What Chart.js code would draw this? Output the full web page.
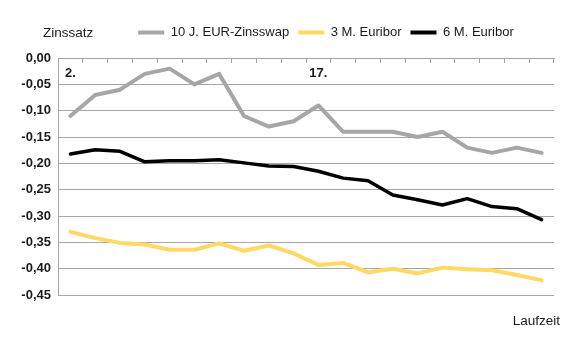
<!DOCTYPE html>
<html>
<head>
<meta charset="utf-8">
<script src="https://cdn.jsdelivr.net/npm/chart.js@4/dist/chart.umd.min.js"></script>
<style>
  html, body { margin: 0; padding: 0; background: #ffffff; }
  canvas { display: block; }
</style>
</head>
<body>
<canvas id="c" width="580" height="340"></canvas>
<script>
// ---- data ----
const categories = ['2.', '', '', '', '', '', '', '', '', '', '17.', '', '', '', '', '', '', '', '', ''];
const swap10y = [-0.11, -0.07, -0.06, -0.03, -0.02, -0.05, -0.03, -0.11, -0.13, -0.12,
                 -0.09, -0.14, -0.14, -0.14, -0.15, -0.14, -0.17, -0.18, -0.17, -0.18];
const euribor3m = [-0.330, -0.342, -0.351, -0.354, -0.364, -0.364, -0.352, -0.366, -0.356, -0.371,
                   -0.393, -0.389, -0.407, -0.400, -0.409, -0.398, -0.401, -0.403, -0.412, -0.422];
const euribor6m = [-0.182, -0.174, -0.177, -0.197, -0.195, -0.195, -0.193, -0.199, -0.205, -0.206,
                   -0.215, -0.228, -0.233, -0.260, -0.269, -0.279, -0.267, -0.282, -0.286, -0.307];
const seriesNames = ['10 J. EUR-Zinsswap', '3 M. Euribor', '6 M. Euribor'];
const yMin = -0.45, yMax = 0, yStep = 0.05;
const yTitle = 'Zinssatz';
const xTitle = 'Laufzeit';

const GRID = '#a6a6a6';
const TEXT = '#1a1a1a';
const FONT = "'Liberation Sans', Arial, sans-serif";

// nudge the legend row, the "Zinssatz" label and the "Laufzeit" label horizontally
const headerShift = {
  id: 'headerShift',
  afterLayout(chart) {
    const lg = chart.legend;
    if (lg) { lg.left += 40; lg.right += 40; }
    const tb = chart.titleBlock;
    if (tb) { tb.left += 25; tb.right += 25; }
    chart.boxes.forEach(b => {
      if (b !== tb && b.options && b.options.text === xTitle) { b.left += 6; b.right += 6; }
    });
  }
};

new Chart(document.getElementById('c'), {
  type: 'line',
  data: {
    labels: categories,
    datasets: [
      { label: seriesNames[0], data: swap10y, borderColor: '#a6a6a6', backgroundColor: '#a6a6a6', borderWidth: 4 },
      { label: seriesNames[1], data: euribor3m, borderColor: '#ffd966', backgroundColor: '#ffd966', borderWidth: 4 },
      { label: seriesNames[2], data: euribor6m, borderColor: '#000000', backgroundColor: '#000000', borderWidth: 3.5 }
    ]
  },
  options: {
    responsive: false,
    animation: false,
    elements: {
      point: { radius: 0, hoverRadius: 0 },
      line: { tension: 0, borderCapStyle: 'round', borderJoinStyle: 'round' }
    },
    layout: { padding: { left: 18, right: 26, top: 17, bottom: 0 } },
    font: { family: FONT, size: 12 },
    scales: {
      x: {
        type: 'category',
        position: { y: 0 },
        offset: true,
        grid: { offset: true, drawOnChartArea: false, drawTicks: true, tickLength: 4, color: GRID, lineWidth: 1 },
        border: { display: true, color: GRID, width: 1 },
        ticks: { autoSkip: false, maxRotation: 0, minRotation: 0, padding: 4,
                 font: { family: FONT, size: 13, weight: 'bold' }, color: TEXT }
      },
      y: {
        position: 'left',
        min: yMin, max: yMax,
        afterFit(scale) { scale.width = 40; },
        grid: { color: GRID, lineWidth: 1, drawTicks: false },
        border: { display: true, color: GRID, width: 1 },
        ticks: {
          stepSize: yStep, padding: 7,
          font: { family: FONT, size: 13, weight: 'bold' }, color: TEXT,
          callback: (v) => Number(v).toFixed(2).replace('.', ',')
        }
      }
    },
    plugins: {
      tooltip: { enabled: false },
      legend: {
        position: 'top',
        align: 'center',
        labels: {
          boxWidth: 26, boxHeight: 4, padding: 9,
          font: { family: FONT, size: 13 }, color: TEXT,
          generateLabels: (chart) => Chart.defaults.plugins.legend.labels.generateLabels(chart)
            .map(l => Object.assign(l, { fillStyle: l.strokeStyle, lineWidth: 0 }))
        }
      },
      title: {
        display: true, text: yTitle, align: 'start', position: 'top', weight: 500,
        font: { family: FONT, size: 13.5, weight: 'normal' }, color: TEXT,
        padding: { top: -23.6, bottom: 16.5 }
      },
      subtitle: {
        display: true, text: xTitle, align: 'end', position: 'bottom',
        font: { family: FONT, size: 13.5, weight: 'normal' }, color: TEXT,
        padding: { top: 18, bottom: 10.8 }
      }
    }
  },
  plugins: [headerShift]
});
</script>
</body>
</html>
